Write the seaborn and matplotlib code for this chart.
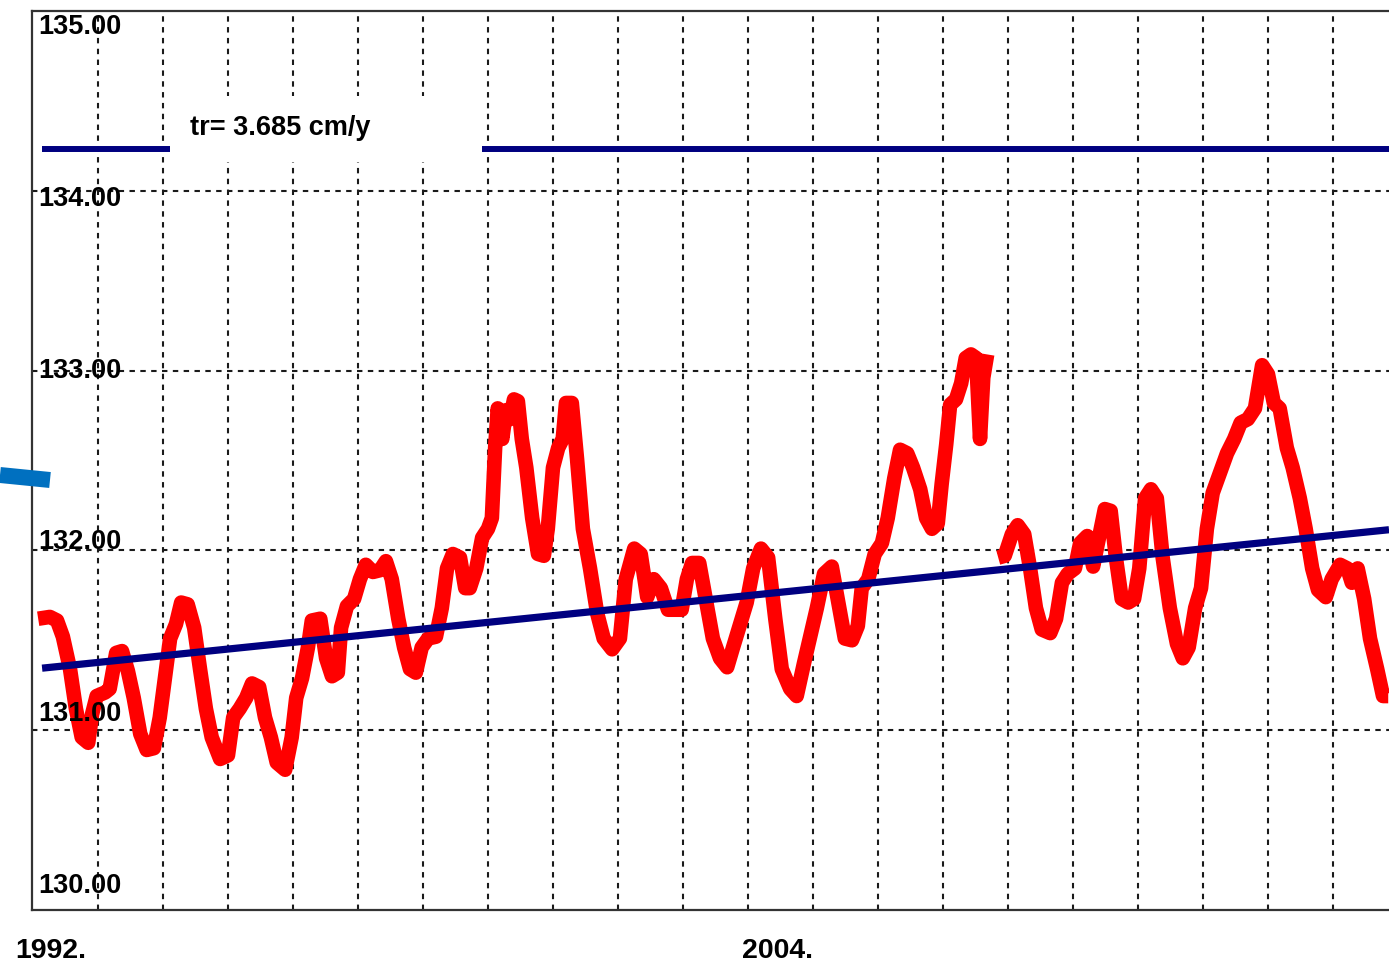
#-------------------------------------------
# Sea level time series with linear trend
#-------------------------------------------

import numpy as np
import pandas as pd
import matplotlib.pyplot as plt
import seaborn as sns
from matplotlib.lines import Line2D
from matplotlib.patches import Rectangle

#-----------------------DATA-----------------------------------

# First run of the record (before the gap in late 2006)

years_a = [1992.08, 1992.26, 1992.37, 1992.46, 1992.57, 1992.66, 1992.75, 1992.85, 1992.91, 1992.98,
           1993.11, 1993.18, 1993.28, 1993.37, 1993.46, 1993.55, 1993.65, 1993.75, 1993.86, 1993.95,
           1994.03, 1994.11, 1994.20, 1994.28, 1994.38, 1994.48, 1994.57, 1994.66, 1994.75, 1994.88,
           1995.00, 1995.08, 1995.18, 1995.28, 1995.37, 1995.48, 1995.57, 1995.66, 1995.75, 1995.88,
           1995.98, 1996.05, 1996.14, 1996.23, 1996.29, 1996.42, 1996.51, 1996.60, 1996.69, 1996.74,
           1996.83, 1996.94, 1997.03, 1997.12, 1997.23, 1997.34, 1997.43, 1997.52, 1997.62, 1997.71,
           1997.80, 1997.89, 1997.98, 1998.08, 1998.20, 1998.29, 1998.37, 1998.46, 1998.57, 1998.65,
           1998.72, 1998.82, 1998.91, 1999.00, 1999.06, 1999.11, 1999.15, 1999.22, 1999.28, 1999.34,
           1999.40, 1999.46, 1999.52, 1999.59, 1999.68, 1999.77, 1999.86, 1999.92, 2000.00, 2000.08,
           2000.15, 2000.20, 2000.29, 2000.37, 2000.46, 2000.57, 2000.68, 2000.78, 2000.91, 2001.03,
           2001.12, 2001.25, 2001.35, 2001.45, 2001.55, 2001.66, 2001.77, 2001.88, 2001.98, 2002.06,
           2002.14, 2002.25, 2002.35, 2002.46, 2002.57, 2002.68, 2002.77, 2002.88, 2002.98, 2003.08,
           2003.20, 2003.31, 2003.42, 2003.52, 2003.65, 2003.75, 2003.86, 2003.95, 2004.06, 2004.17,
           2004.29, 2004.38, 2004.49, 2004.60, 2004.69, 2004.75, 2004.85, 2004.95, 2005.06, 2005.15,
           2005.25, 2005.34, 2005.45, 2005.54, 2005.65, 2005.74, 2005.83, 2005.92, 2005.98, 2006.05,
           2006.11, 2006.20, 2006.28, 2006.35, 2006.43, 2006.51, 2006.57, 2006.62, 2006.68]

level_a = [131.62, 131.63, 131.61, 131.52, 131.34, 131.12, 130.96, 130.93, 131.09, 131.19,
           131.21, 131.23, 131.43, 131.44, 131.33, 131.18, 130.98, 130.89, 130.90, 131.07,
           131.29, 131.51, 131.59, 131.71, 131.70, 131.57, 131.34, 131.12, 130.96, 130.84,
           130.86, 131.07, 131.12, 131.18, 131.26, 131.24, 131.07, 130.96, 130.82, 130.78,
           130.96, 131.18, 131.29, 131.46, 131.61, 131.62, 131.40, 131.30, 131.32, 131.57,
           131.69, 131.73, 131.84, 131.92, 131.88, 131.89, 131.94, 131.84, 131.62, 131.46,
           131.34, 131.32, 131.46, 131.51, 131.52, 131.68, 131.90, 131.98, 131.96, 131.79,
           131.79, 131.90, 132.07, 132.12, 132.18, 132.57, 132.79, 132.62, 132.78, 132.73,
           132.84, 132.83, 132.62, 132.46, 132.18, 131.98, 131.97, 132.12, 132.46, 132.57,
           132.62, 132.82, 132.82, 132.51, 132.12, 131.90, 131.65, 131.51, 131.45, 131.51,
           131.84, 132.01, 131.98, 131.74, 131.84, 131.79, 131.67, 131.67, 131.67, 131.84,
           131.93, 131.93, 131.73, 131.51, 131.40, 131.35, 131.46, 131.59, 131.71, 131.90,
           132.01, 131.96, 131.62, 131.34, 131.23, 131.19, 131.37, 131.51, 131.68, 131.87,
           131.91, 131.73, 131.51, 131.50, 131.58, 131.79, 131.84, 131.98, 132.04, 132.18,
           132.40, 132.56, 132.54, 132.46, 132.34, 132.18, 132.12, 132.15, 132.37, 132.59,
           132.81, 132.84, 132.93, 133.07, 133.09, 133.07, 132.62, 132.96, 133.09]

# Second run of the record (after the gap)

years_b = [2006.85, 2006.95, 2007.06, 2007.15, 2007.25, 2007.34, 2007.43, 2007.52, 2007.65, 2007.74,
           2007.83, 2007.92, 2008.03, 2008.11, 2008.22, 2008.31, 2008.40, 2008.49, 2008.58, 2008.66,
           2008.75, 2008.85, 2008.94, 2009.02, 2009.11, 2009.20, 2009.29, 2009.38, 2009.49, 2009.60,
           2009.69, 2009.78, 2009.88, 2009.97, 2010.06, 2010.15, 2010.26, 2010.37, 2010.48, 2010.58,
           2010.69, 2010.80, 2010.91, 2011.00, 2011.09, 2011.18, 2011.29, 2011.38, 2011.49, 2011.58,
           2011.68, 2011.77, 2011.89, 2011.98, 2012.11, 2012.22, 2012.29, 2012.38, 2012.48, 2012.57,
           2012.68, 2012.77, 2012.85]

level_b = [131.96, 131.97, 132.09, 132.14, 132.09, 131.90, 131.68, 131.56, 131.54, 131.62,
           131.82, 131.87, 131.90, 132.04, 132.08, 131.91, 132.07, 132.23, 132.22, 131.96,
           131.73, 131.71, 131.73, 131.90, 132.29, 132.34, 132.29, 131.96, 131.68, 131.48,
           131.40, 131.46, 131.68, 131.79, 132.12, 132.32, 132.43, 132.54, 132.62, 132.71,
           132.73, 132.79, 133.03, 132.98, 132.82, 132.79, 132.57, 132.46, 132.29, 132.12,
           131.90, 131.78, 131.74, 131.84, 131.92, 131.90, 131.82, 131.90, 131.73, 131.51,
           131.34, 131.19, 131.19]

# Linear trend (end points)

trend_years = [1992.14, 2012.862]
trend_level = [131.345, 132.115]
trend_text = "tr= 3.685 cm/y"
legend_level = 134.23

y_ticks = [130, 131, 132, 133, 134, 135]
y_tick_labels = ["130.00", "131.00", "132.00", "133.00", "134.00", "135.00"]
x_label_years = [1992, 2004]
x_labels = ["1992.", "2004."]
grid_years = list(range(1993, 2013))

#-----------------------FRAMES---------------------------------

series = pd.concat([
    pd.DataFrame({"year": years_a, "level": level_a, "segment": "a"}),
    pd.DataFrame({"year": years_b, "level": level_b, "segment": "b"}),
])
trend = pd.DataFrame({"year": trend_years, "level": trend_level})

#-----------------------PLOTTING-------------------------------

sns.set_style("white")
plt.rcParams["font.family"] = ["Liberation Sans", "DejaVu Sans"]

W, H = 1389, 970
fig = plt.figure(figsize=(W / 100, H / 100), dpi=100)
ax = fig.add_axes([32 / W, 59 / H, 1357 / W, 899 / H])

ax.set_xlim(1991.985, 2012.862)
ax.set_ylim(130, 135)

# dashed grid
ax.set_xticks(grid_years)
ax.set_yticks(y_ticks[1:-1])
ax.grid(True, color="#1a1a1a", linestyle=(0, (2.6, 2.6)), linewidth=1.5)
ax.tick_params(labelleft=False, labelbottom=False, length=0)
for side in ["left", "bottom", "top"]:
    ax.spines[side].set_color("#333333")
    ax.spines[side].set_linewidth(1.6)
ax.spines["right"].set_visible(False)

# series
sns.lineplot(data=series, x="year", y="level", units="segment", estimator=None, sort=False,
             color="#ff0000", linewidth=10.5, ax=ax, zorder=3,
             solid_joinstyle="round", solid_capstyle="butt")
sns.lineplot(data=trend, x="year", y="level", color="#000080", linewidth=5.2,
             ax=ax, zorder=4, solid_capstyle="butt")
ax.plot([trend_years[0], trend_years[1]], [legend_level, legend_level],
        color="#000080", linewidth=4.3, solid_capstyle="butt", zorder=4)
ax.set_xlabel("")
ax.set_ylabel("")

# legend box for trend
ax.add_patch(Rectangle((1994.11, 134.161), 4.8, 0.367, facecolor="white",
                       edgecolor="none", zorder=5))
ax.text(1994.415, 134.356, trend_text, ha="left", va="center", fontsize=19.5,
        fontweight="bold", color="black", zorder=6)

# y labels inside plot area
for v, lab in zip(y_ticks, y_tick_labels):
    ax.text(0.0045, v + 0.139 - 0.0445 * (v - 130), lab,
            transform=ax.get_yaxis_transform(), ha="left", va="center",
            fontsize=19.5, fontweight="bold", color="black", zorder=6)

# x labels below plot area
ax.text(x_label_years[0] - 0.28, 129.78, x_labels[0], ha="left", va="center",
        fontsize=20.5, fontweight="bold", color="black", clip_on=False)
ax.text(x_label_years[1], 129.78, x_labels[1], ha="right", va="center",
        fontsize=20.5, fontweight="bold", color="black", clip_on=False)

# stray marker stroke on left edge
fig.add_artist(Line2D([0, 50 / W], [1 - 476 / H, 1 - 481 / H], transform=fig.transFigure,
                      color="#0070c0", linewidth=11.5, solid_capstyle="butt"))

plt.savefig("out.png", dpi=100)
